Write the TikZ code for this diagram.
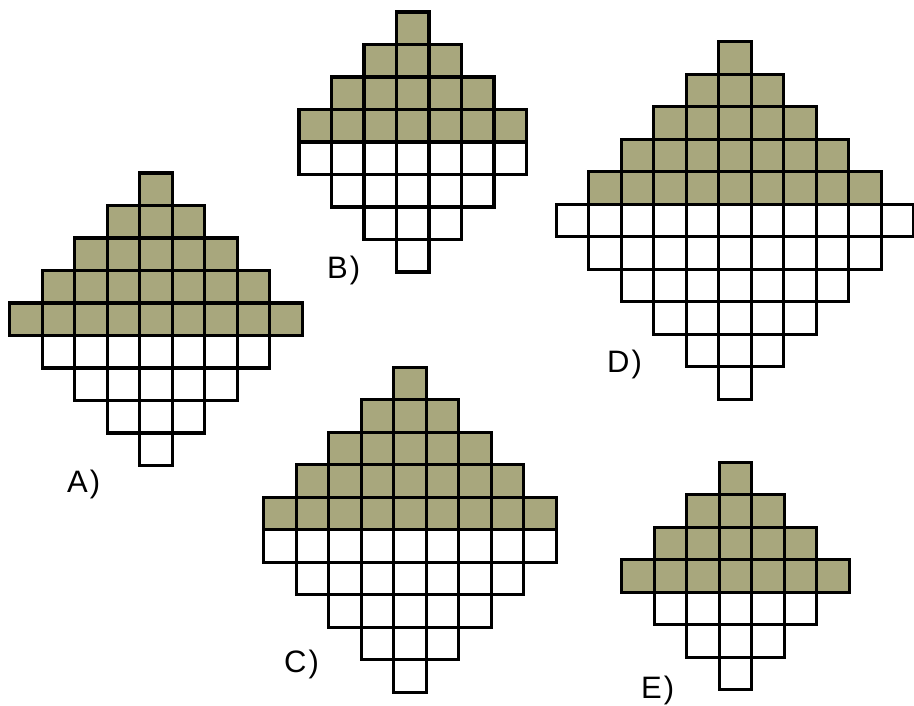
\documentclass[tikz,border=0pt]{standalone}
\usepackage{fontspec}
\setmainfont{Liberation Sans}
\definecolor{olivefill}{RGB}{168,167,125}
\tikzset{
  cellS/.style={draw=black, fill=olivefill, line width=3.2pt, line join=miter},
  cellW/.style={draw=black, fill=white, line width=3.2pt, line join=miter},
  lab/.style={anchor=base west, inner sep=0pt, font=\fontsize{31}{31}\selectfont}
}
\def\cellsz{32.5}
\newcommand\figdiamond[5]{%
  \foreach \n [count=\i from 0] in {#3} {
    \foreach \k in {1,...,\n} {
      \draw[cellS] ({#1+(\k-1-(\n-1)/2)*\cellsz-\cellsz/2}, {#2+\i*\cellsz}) rectangle ++(\cellsz,\cellsz);
    }
  }
  \foreach \n [count=\i from #5] in {#4} {
    \foreach \k in {1,...,\n} {
      \draw[cellW] ({#1+(\k-1-(\n-1)/2)*\cellsz-\cellsz/2}, {#2+\i*\cellsz}) rectangle ++(\cellsz,\cellsz);
    }
  }
}
\begin{document}
\begin{tikzpicture}[x=1pt,y=-1pt]
\useasboundingbox (0,0) rectangle (914,705);
% A
\figdiamond{156}{173}{1,3,5,7,9}{7,5,3,1}{5}
% B
\figdiamond{412.8}{12}{1,3,5,7}{7,5,3,1}{4}
% C
\figdiamond{410}{367.3}{1,3,5,7,9}{9,7,5,3,1}{5}
% D
\figdiamond{735}{41.7}{1,3,5,7,9}{11,9,7,5,3,1}{5}
% E
\figdiamond{735.5}{462.3}{1,3,5,7}{5,3,1}{4}
\node[lab] (la) at (67,492) {A\kern2pt)};
\node[lab] (lb) at (327,278) {B\kern2pt)};
\node[lab] (lc) at (284,672) {C\kern2pt)};
\node[lab] (ld) at (607,372) {D\kern2pt)};
\node[lab] (le) at (641,698) {E\kern2pt)};
\end{tikzpicture}
\end{document}
